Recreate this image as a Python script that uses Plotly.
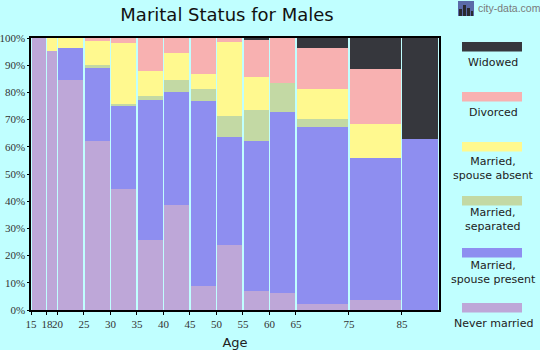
import plotly.graph_objects as go

# Age group boundaries (years); each bar spans one group
age_edges = [15, 18, 20, 25, 30, 35, 40, 45, 50, 55, 60, 65, 75, 85, 92]
tick_ages = [15, 18, 20, 25, 30, 35, 40, 45, 50, 55, 60, 65, 75, 85]

# Share of males in each marital status, per age group (%)
never_married   = [100, 95.1, 84.5, 62.1, 44.4, 25.7, 38.6, 8.8, 23.9, 7.0, 6.2, 2.2, 3.7, 0.0]
spouse_present  = [0, 0, 11.7, 26.8, 30.9, 51.4, 41.4, 67.9, 39.6, 55.1, 66.5, 65.0, 52.1, 62.8]
separated       = [0, 0, 0, 1.1, 0.3, 1.5, 4.5, 4.5, 7.7, 11.3, 10.8, 2.9, 0, 0]
spouse_absent   = [0, 4.9, 3.8, 8.9, 22.4, 9.2, 9.9, 5.5, 27.2, 12.2, 0, 11.1, 12.5, 0]
divorced        = [0, 0, 0, 1.1, 2.0, 12.2, 5.6, 13.3, 1.6, 13.5, 16.5, 15.0, 20.2, 0]
widowed         = [0, 0, 0, 0, 0, 0, 0, 0, 0, 0.9, 0, 3.8, 11.5, 37.2]

series = [
    ("Never married", never_married, "#bea7d8"),
    ("Married,<br>spouse present", spouse_present, "#8e8ef0"),
    ("Married,<br>separated", separated, "#c3d9a4"),
    ("Married,<br>spouse absent", spouse_absent, "#fff98f"),
    ("Divorced", divorced, "#f8b1b1"),
    ("Widowed", widowed, "#36373d"),
]

BG = "#c0ffff"
centers = [(a + b) / 2 for a, b in zip(age_edges[:-1], age_edges[1:])]
widths = [(b - a) - 0.22 for a, b in zip(age_edges[:-1], age_edges[1:])]

fig = go.Figure()
for name, vals, color in series:
    fig.add_trace(go.Bar(
        x=centers, y=vals, width=widths, name=name,
        marker=dict(color=color, line=dict(width=0)),
        showlegend=False,
    ))

# Plot-area geometry in pixels (used to place the side legend)
W, H = 540, 350
ML, MR, MT, MB = 31, 101, 38, 40
pw, ph = W - ML - MR, H - MT - MB

def px_x(x):
    return (x - ML) / pw

def px_y(y):
    return (H - MB - y) / ph

# Side legend: colour swatch with its label underneath, top to bottom
legend_rows = [
    ("Widowed", "#36373d", 42, 62),
    ("Divorced", "#f8b1b1", 92, 112),
    ("Married,<br>spouse absent", "#fff98f", 142, 168),
    ("Married,<br>separated", "#c3d9a4", 196, 219),
    ("Married,<br>spouse present", "#8e8ef0", 248, 272),
    ("Never married", "#bea7d8", 303, 323),
]
shapes = []
annotations = []
for label, color, sy, ty in legend_rows:
    shapes.append(dict(type="rect", xref="paper", yref="paper",
                       x0=px_x(462), x1=px_x(522), y0=px_y(sy + 9.5), y1=px_y(sy),
                       fillcolor=color, line=dict(width=0)))
    annotations.append(dict(text=label, xref="paper", yref="paper",
                            x=px_x(493), y=px_y(ty), xanchor="center", yanchor="middle",
                            showarrow=False, align="center",
                            font=dict(family="DejaVu Sans", size=11, color="#222222")))

# Site mark in the top-right corner: small skyline icon plus name
shapes.append(dict(type="rect", xref="paper", yref="paper",
                   x0=px_x(458), x1=px_x(474), y0=px_y(16), y1=px_y(1),
                   fillcolor="#5a6aa8", line=dict(width=0)))
for bx0, bx1, btop in [(459, 462, 9), (463, 466, 5), (467, 470, 8), (471, 473, 11)]:
    shapes.append(dict(type="rect", xref="paper", yref="paper",
                       x0=px_x(bx0), x1=px_x(bx1), y0=px_y(16), y1=px_y(btop),
                       fillcolor="#2a2a30", line=dict(width=0)))
annotations.append(dict(text="city-data.com", xref="paper", yref="paper",
                        x=px_x(476), y=px_y(8), xanchor="left", yanchor="middle",
                        showarrow=False,
                        font=dict(family="Liberation Sans", size=10.5, color="#7a7a7a")))

fig.update_layout(
    width=W, height=H,
    margin=dict(l=ML, r=MR, t=MT, b=MB, pad=0, autoexpand=False),
    paper_bgcolor=BG, plot_bgcolor=BG,
    barmode="stack", bargap=0,
    title=dict(text="Marital Status for Males", x=px_x(227), xref="paper", xanchor="center",
               y=1 - 15 / H, yanchor="middle",
               font=dict(family="DejaVu Sans", size=18, color="#111111")),
    xaxis=dict(
        range=[15, 92], tickvals=tick_ages, ticktext=[str(a) for a in tick_ages],
        automargin=False, tickangle=0,
        showgrid=False, zeroline=False,
        showline=True, linecolor="#000000", linewidth=1.5, mirror=True,
        ticks="outside", ticklen=3, tickcolor="#000000",
        tickfont=dict(family="Liberation Sans Narrow", size=11, color="#333333"),
        title=dict(text="Age", font=dict(family="DejaVu Sans", size=13, color="#222222"),
                   standoff=9),
    ),
    yaxis=dict(
        range=[0, 100], tickvals=list(range(0, 101, 10)),
        ticktext=[f"{v}%" for v in range(0, 101, 10)],
        automargin=False,
        showgrid=False, zeroline=False,
        showline=True, linecolor="#000000", linewidth=1.5, mirror=True,
        ticks="outside", ticklen=2, tickcolor="#000000",
        tickfont=dict(family="Liberation Sans Narrow", size=11, color="#333333"),
    ),
    shapes=shapes, annotations=annotations,
)

fig.write_html("out.html", config={"displayModeBar": False})
